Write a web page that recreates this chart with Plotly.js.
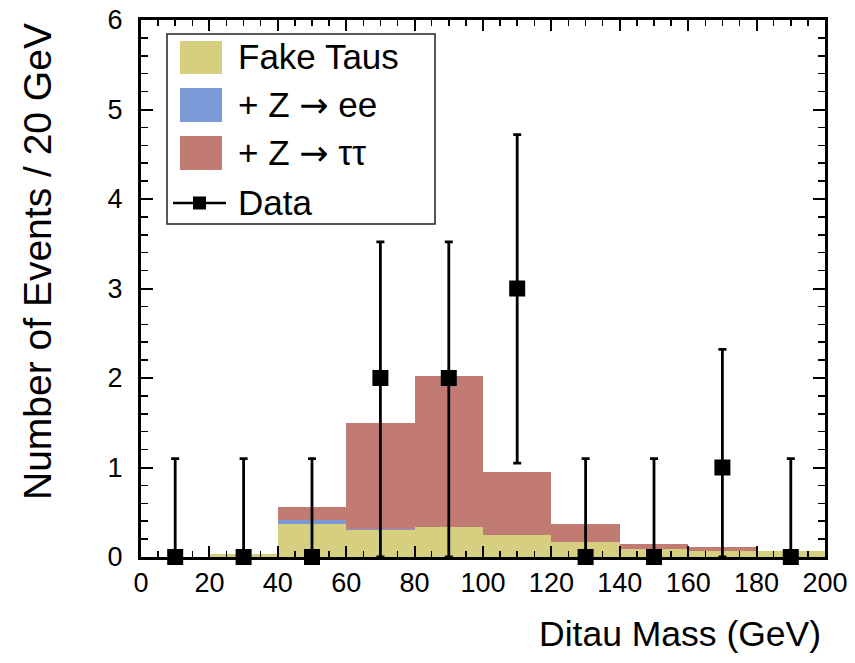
<!DOCTYPE html>
<html>
<head>
<meta charset="utf-8">
<script src="https://cdn.plot.ly/plotly-3.0.1.min.js"></script>
<style>
html,body{margin:0;padding:0;background:#fff;}
#chart{width:855px;height:663px;}
</style>
</head>
<body>
<div id="chart"></div>
<script>
// ---- data ----
const binCenters = [10, 30, 50, 70, 90, 110, 130, 150, 170, 190];
const fakeTaus   = [0.00, 0.03, 0.37, 0.30, 0.34, 0.25, 0.17, 0.09, 0.07, 0.07];
const zToEE      = [0.00, 0.00, 0.04, 0.01, 0.00, 0.00, 0.00, 0.00, 0.00, 0.00];
const zToTauTau  = [0.00, 0.00, 0.15, 1.19, 1.68, 0.70, 0.20, 0.06, 0.04, 0.00];
const dataY      = [0, 0, 0, 2, 2, 3, 0, 0, 1, 0];
const dataErrUp  = [1.1, 1.1, 1.1, 1.52, 1.52, 1.72, 1.1, 1.1, 1.32, 1.1];
const dataErrDn  = [0, 0, 0, 2, 2, 1.95, 0, 0, 1, 0];
const xTickVals  = [0, 20, 40, 60, 80, 100, 120, 140, 160, 180, 200];
const yTickVals  = [0, 1, 2, 3, 4, 5, 6];
const legendLabels = ['Fake Taus', '+ Z \u2192 ee', '+ Z \u2192 \u03c4\u03c4', 'Data'];

// ---- style ----
const FONT = '"Liberation Sans", Arial, Helvetica, sans-serif';
const colFake = '#d6cf80';
const colEE   = '#7d9ad8';
const colTT   = '#c17b73';

const M = {l: 141, r: 30, t: 20, b: 106};
const W = 855, H = 663;
const PW = W - M.l - M.r, PH = H - M.t - M.b;
const px = x => (x - M.l) / PW;
const py = y => (H - M.b - y) / PH;

const barCommon = {type: 'bar', x: binCenters, width: 20, showlegend: false, hoverinfo: 'skip'};
const traces = [
  Object.assign({}, barCommon, {name: legendLabels[0], y: fakeTaus, marker: {color: colFake, line: {width: 0}}}),
  Object.assign({}, barCommon, {name: legendLabels[1], y: zToEE, marker: {color: colEE, line: {width: 0}}}),
  Object.assign({}, barCommon, {name: legendLabels[2], y: zToTauTau, marker: {color: colTT, line: {width: 0}}}),
  {
    type: 'scatter', mode: 'markers', name: legendLabels[3],
    x: binCenters, y: dataY, showlegend: false, cliponaxis: false,
    marker: {symbol: 'square', size: 16, color: '#000'},
    error_y: {type: 'data', symmetric: false, array: dataErrUp, arrayminus: dataErrDn,
              color: '#000', thickness: 2.8, width: 4}
  }
];

// custom legend
const shapes = [
  {type: 'rect', xref: 'paper', yref: 'paper', x0: px(167), x1: px(435), y0: py(34), y1: py(224),
   line: {color: '#222', width: 1.5}, fillcolor: 'rgba(255,255,255,1)', layer: 'above'},
  {type: 'rect', xref: 'paper', yref: 'paper', x0: px(180), x1: px(222), y0: py(41), y1: py(74),
   line: {width: 0}, fillcolor: colFake, layer: 'above'},
  {type: 'rect', xref: 'paper', yref: 'paper', x0: px(180), x1: px(222), y0: py(88), y1: py(122),
   line: {width: 0}, fillcolor: colEE, layer: 'above'},
  {type: 'rect', xref: 'paper', yref: 'paper', x0: px(180), x1: px(222), y0: py(136), y1: py(170),
   line: {width: 0}, fillcolor: colTT, layer: 'above'},
  {type: 'line', xref: 'paper', yref: 'paper', x0: px(173), x1: px(226), y0: py(203), y1: py(203),
   line: {color: '#000', width: 2.5}, layer: 'above'},
  {type: 'rect', xref: 'paper', yref: 'paper', x0: px(193), x1: px(206), y0: py(196.5), y1: py(209.5),
   line: {width: 0}, fillcolor: '#000', layer: 'above'}
];
const legY = [57, 105, 153, 202];
const ARROW = '<span style="font-family:\'DejaVu Sans\'">\u2192</span>';
const legendHtml = legendLabels.map(t => t.replace('\u2192', ARROW));
const annotations = legendHtml.map((t, i) => ({
  text: t, xref: 'paper', yref: 'paper', x: px(236), y: py(legY[i]),
  xanchor: 'left', yanchor: 'middle', showarrow: false,
  font: {family: FONT, size: 35, color: '#000'}
}));
annotations.push({
  text: 'Ditau Mass (GeV)', xref: 'paper', yref: 'paper', x: px(823), y: py(634),
  xanchor: 'right', yanchor: 'middle', showarrow: false,
  font: {family: FONT, size: 35.5, color: '#000'}
});
annotations.push({
  text: 'Number of Events / 20 GeV', xref: 'paper', yref: 'paper', x: px(37), y: py(262),
  xanchor: 'center', yanchor: 'middle', textangle: -90, showarrow: false,
  font: {family: FONT, size: 39, color: '#000'}
});

const axisCommon = {
  showgrid: false, zeroline: false, showline: true, linecolor: '#000', linewidth: 3,
  mirror: 'allticks', ticks: 'inside', tickcolor: '#000', tickwidth: 2,
  tickfont: {family: FONT, size: 27, color: '#000'}, fixedrange: true
};

const layout = {
  width: W, height: H, margin: M,
  paper_bgcolor: '#fff', plot_bgcolor: '#fff',
  barmode: 'stack', bargap: 0,
  showlegend: false,
  xaxis: Object.assign({}, axisCommon, {
    range: [0, 200], tickvals: xTickVals, ticktext: xTickVals.map(String), ticklen: 11,
    minor: {dtick: 5, ticklen: 6, tickcolor: '#000', tickwidth: 1.5, ticks: 'inside'}
  }),
  yaxis: Object.assign({}, axisCommon, {
    range: [0, 6], tickvals: yTickVals, ticktext: yTickVals.map(String), ticklen: 12,
    ticklabelstandoff: 10,
    minor: {dtick: 0.2, ticklen: 7, tickcolor: '#000', tickwidth: 1.5, ticks: 'inside'}
  }),
  shapes: shapes,
  annotations: annotations
};

Plotly.newPlot('chart', traces, layout, {staticPlot: true, displayModeBar: false});
</script>
</body>
</html>
